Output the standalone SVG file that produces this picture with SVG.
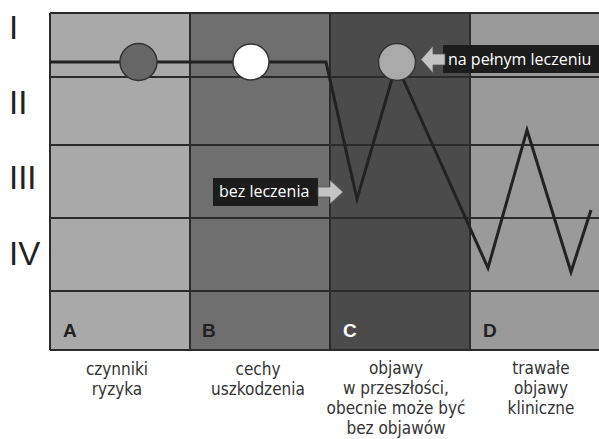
<svg xmlns="http://www.w3.org/2000/svg" width="599" height="439" viewBox="0 0 599 439">
<style>
.grid{stroke:#2b2b2b;stroke-width:2;fill:none}
.data{stroke:#222;stroke-width:3;fill:none;stroke-linejoin:miter}
.roman{font-family:"Liberation Sans",Arial,sans-serif;font-size:33px;fill:#222}
.col{font-family:"Liberation Sans",Arial,sans-serif;font-size:19px;font-weight:bold;fill:#222}
.cap{font-family:"DejaVu Sans Condensed","DejaVu Sans",sans-serif;font-size:17px;fill:#333;text-anchor:middle}
.tag{font-family:"Open Sans","DejaVu Sans",sans-serif;font-size:16px;fill:#fff}
.circ{stroke:#333;stroke-width:1.5}
.arrow{fill:#c4c4c4;stroke:#555;stroke-width:0.8}
</style>
<rect width="599" height="439" fill="#fff"/>
<g id="columns">
<rect x="50" y="13" width="140" height="337" fill="#a9a9a9"/>
<rect x="190" y="13" width="140" height="337" fill="#6f6f6f"/>
<rect x="330" y="13" width="140" height="337" fill="#4b4b4b"/>
<rect x="470" y="13" width="130" height="337" fill="#9a9a9a"/>
</g>
<g id="grid" class="grid">
<path d="M50 13H600M50 77H600M50 145H600M50 218H600M50 291H600M50 350H600"/>
<path d="M50 13V350M190 13V350M330 13V350M470 13V350"/>
</g>
<g id="connectors">
<polyline class="data" points="50,62 326,62 357,199 392,79"/>
<polyline class="data" points="403,79 488,268 527,130 571,272 591,210"/>
</g>
<g id="stage-A"><circle class="circ" cx="138.5" cy="62" r="18.5" fill="#666"/></g>
<g id="stage-B"><circle class="circ" cx="251" cy="62" r="18" fill="#fff"/></g>
<g id="stage-C"><circle class="circ" cx="397" cy="62" r="18.5" fill="#aaa"/></g>
<g id="label-full">
<rect x="443" y="45" width="160" height="28" fill="#1c1c1c"/>
<polygon class="arrow" points="421,59.5 433,46 433,54 445,54 445,65 433,65 433,73"/>
<text class="tag" x="448" y="65">na pełnym leczeniu</text>
</g>
<g id="label-none">
<rect x="213" y="178" width="105" height="28" fill="#1c1c1c"/>
<polygon class="arrow" points="343,192 330,180 330,187 318,187 318,197 330,197 330,204"/>
<text class="tag" x="219" y="197">bez leczenia</text>
</g>
<g id="roman">
<text class="roman" x="9" y="39">I</text>
<text class="roman" x="9" y="114">II</text>
<text class="roman" x="9" y="189">III</text>
<text class="roman" x="9" y="265">IV</text>
</g>
<g id="letters">
<text class="col" x="63" y="337">A</text>
<text class="col" x="202" y="337">B</text>
<text class="col" x="343" y="337" style="fill:#fff">C</text>
<text class="col" x="483" y="337">D</text>
</g>
<g id="captions">
<text class="cap" x="117" y="375">czynniki</text>
<text class="cap" x="117" y="395">ryzyka</text>
<text class="cap" x="258" y="375">cechy</text>
<text class="cap" x="258" y="395">uszkodzenia</text>
<text class="cap" x="396" y="374">objawy</text>
<text class="cap" x="396" y="394">w przeszłości,</text>
<text class="cap" x="396" y="414">obecnie może być</text>
<text class="cap" x="396" y="434">bez objawów</text>
<text class="cap" x="541" y="374">trawałe</text>
<text class="cap" x="541" y="394">objawy</text>
<text class="cap" x="541" y="414">kliniczne</text>
</g>
</svg>
